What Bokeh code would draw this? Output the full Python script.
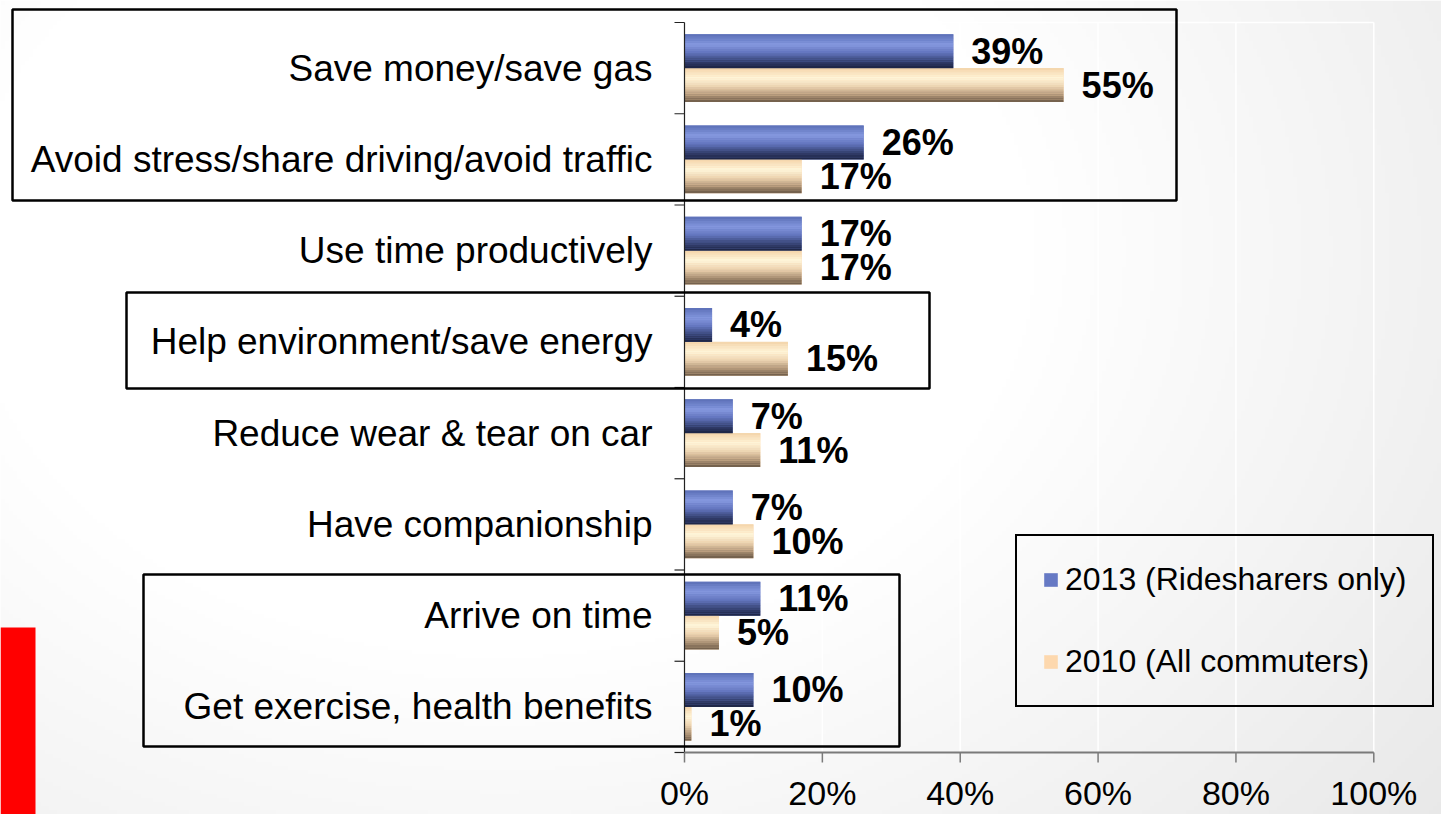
import math
import numpy as np
from bokeh.plotting import figure
from bokeh.models import Range1d, Legend, LegendItem
from bokeh.core.properties import value
from bokeh.embed import file_html
from bokeh.resources import INLINE

# ---------------- data ----------------
CATEGORIES = [
    "Save money/save gas",
    "Avoid stress/share driving/avoid traffic",
    "Use time productively",
    "Help environment/save energy",
    "Reduce wear & tear on car",
    "Have companionship",
    "Arrive on time",
    "Get exercise, health benefits",
]
SERIES_NAMES = ["2013 (Ridesharers only)", "2010 (All commuters)"]
VALUES_2013 = [39, 26, 17, 4, 7, 7, 11, 10]
VALUES_2010 = [55, 17, 17, 15, 11, 10, 5, 1]
X_TICKS = [0, 20, 40, 60, 80, 100]

# ---------------- layout / style ----------------
W, H = 1441, 814
X0_PAGE = 684              # pixel x of 0 %
PX_PER_PCT = 6.893
YB_PAGE = 752              # pixel y of bottom of category band
PX_PER_CAT = 91.25
FONT = value("Liberation Sans")

LEG_BLUE = "#6679c4"
LEG_ORANGE = "#fdd8ae"
BLUE_STOPS = [(0.0, "#5b6fb6"), (0.3, "#8699e0"), (0.55, "#6274bd"), (0.8, "#34406f"), (1.0, "#1b2242")]
ORANGE_STOPS = [(0.0, "#f3d3a9"), (0.3, "#fff6da"), (0.55, "#ecd3b0"), (0.8, "#ab9174"), (1.0, "#6b5947")]


def px2x(px):
    return (px - X0_PAGE) / PX_PER_PCT


def py2y(py):
    return (YB_PAGE - py) / PX_PER_CAT


def hex2rgb(h):
    h = h.lstrip("#")
    return tuple(int(h[i:i + 2], 16) for i in (0, 2, 4))


def interp(stops, f):
    for (f0, c0), (f1, c1) in zip(stops[:-1], stops[1:]):
        if f0 <= f <= f1:
            t = (f - f0) / (f1 - f0)
            a, b = hex2rgb(c0), hex2rgb(c1)
            r = tuple(int(round(a[i] + (b[i] - a[i]) * t)) for i in range(3))
            return "#%02x%02x%02x" % r
    return stops[-1][1]


p = figure(width=W, height=H, output_backend="svg", toolbar_location=None,
           x_range=Range1d(px2x(0), px2x(W)),
           y_range=Range1d(py2y(H), py2y(0)),
           x_axis_location=None, y_axis_location=None,
           min_border_left=0, min_border_right=0, min_border_top=0, min_border_bottom=0)
p.outline_line_color = None
p.grid.visible = False
p.background_fill_color = "white"
p.border_fill_color = "white"

# ---------------- background gradient (decoration) ----------------
STEP = 4
cols, rows = int(math.ceil(W / STEP)), int(math.ceil(H / STEP))
xs = (np.arange(cols) + 0.5) * STEP
ys = H - (np.arange(rows) + 0.5) * STEP          # row 0 = bottom
XX, YY = np.meshgrid(xs, ys)
d = np.sqrt(((XX - 500) / 950.0) ** 2 + ((YY - 250) / 720.0) ** 2)
g = 255 - 16.0 * np.clip(d - 0.55, 0, None) / 0.5
g = np.clip(np.round(g), 0, 255).astype(np.uint8)
img = np.empty((rows, cols), dtype=np.uint32)
view = img.view(dtype=np.uint8).reshape((rows, cols, 4))
view[:, :, 0] = g
view[:, :, 1] = g
view[:, :, 2] = g
view[:, :, 3] = 255
p.image_rgba(image=[img], x=px2x(0), y=py2y(H), dw=px2x(W) - px2x(0), dh=py2y(0) - py2y(H))

n = len(CATEGORIES)
bounds = list(range(n + 1))

# faint white plot-area lines
p.segment(x0=X_TICKS, x1=X_TICKS, y0=[0] * len(X_TICKS), y1=[n] * len(X_TICKS),
          line_color="white", line_width=1.5)
p.segment(x0=[0], x1=[100], y0=[n], y1=[n], line_color="white", line_width=1.5)

# ---------------- bars ----------------
BAR_H = 0.37
OFF = 0.185
centers = [n - i - 0.5 for i in range(n)]
y13 = [c + OFF for c in centers]
y10 = [c - OFF for c in centers]

base13 = p.hbar(y=y13, left=0, right=VALUES_2013, height=BAR_H,
                fill_color=LEG_BLUE, line_color=None)
base10 = p.hbar(y=y10, left=0, right=VALUES_2010, height=BAR_H,
                fill_color=LEG_ORANGE, line_color=None)

N = 16
for k in range(N):
    f = (k + 0.5) / N                      # 0 = top of bar
    dy = BAR_H / 2 - (k + 0.5) * BAR_H / N
    p.hbar(y=[y + dy for y in y13], left=0, right=VALUES_2013, height=BAR_H / N * 1.05,
           fill_color=interp(BLUE_STOPS, f), line_color=None)
    p.hbar(y=[y + dy for y in y10], left=0, right=VALUES_2010, height=BAR_H / N * 1.05,
           fill_color=interp(ORANGE_STOPS, f), line_color=None)

# ---------------- value labels ----------------
p.text(x=VALUES_2013, y=y13, text=[f"{v}%" for v in VALUES_2013], x_offset=18,
       text_baseline="middle", text_align="left", text_font=FONT,
       text_font_style="bold", text_font_size="36px", text_color="black")
p.text(x=VALUES_2010, y=y10, text=[f"{v}%" for v in VALUES_2010], x_offset=18,
       text_baseline="middle", text_align="left", text_font=FONT,
       text_font_style="bold", text_font_size="36px", text_color="black")

# ---------------- category axis ----------------
p.text(x=[px2x(652)] * n, y=centers, text=CATEGORIES, text_align="right",
       text_baseline="middle", text_font=FONT, text_font_size="37px", text_color="black")
p.segment(x0=[0], x1=[0], y0=[0], y1=[n], line_color="#222222", line_width=1.2)
p.segment(x0=[px2x(674)] * (n + 1), x1=[0] * (n + 1), y0=bounds, y1=bounds,
          line_color="#222222", line_width=1.2)

# ---------------- value axis ----------------
p.segment(x0=[X_TICKS[0]], x1=[X_TICKS[-1]], y0=[0], y1=[0],
          line_color="#7a7a7a", line_width=2.2)
p.segment(x0=X_TICKS, x1=X_TICKS, y0=[0] * len(X_TICKS),
          y1=[py2y(YB_PAGE + 10)] * len(X_TICKS), line_color="#7a7a7a", line_width=1.5)
p.text(x=X_TICKS, y=[0] * len(X_TICKS), text=[f"{t}%" for t in X_TICKS], y_offset=40,
       text_align="center", text_baseline="middle", text_font=FONT,
       text_font_size="34px", text_color="black")

# ---------------- highlight boxes ----------------
BOXES_PAGE = [(12, 1176, 9, 200), (126, 929, 292, 388), (143, 899, 574, 746)]
p.quad(left=[px2x(b[0]) for b in BOXES_PAGE], right=[px2x(b[1]) for b in BOXES_PAGE],
       top=[py2y(b[2]) for b in BOXES_PAGE], bottom=[py2y(b[3]) for b in BOXES_PAGE],
       fill_color=None, line_color="black", line_width=2.5)

# red decoration at bottom-left
p.quad(left=[px2x(0)], right=[px2x(35)], top=[py2y(627)], bottom=[py2y(H)],
       fill_color="#ff0000", line_color=None)

# ---------------- legend ----------------
legend = Legend(items=[LegendItem(label=SERIES_NAMES[0], renderers=[base13]),
                       LegendItem(label=SERIES_NAMES[1], renderers=[base10])],
                location=(1015, H - 707), orientation="vertical", margin=0, padding=25,
                spacing=45, glyph_width=17, glyph_height=17, label_standoff=6,
                label_text_font="Liberation Sans", label_text_font_size="32px",
                label_text_color="black",
                border_line_color="black", border_line_width=2.5, border_line_alpha=1.0,
                background_fill_alpha=0.0)
p.add_layout(legend)

open("out.html", "w").write(file_html(p, INLINE))
